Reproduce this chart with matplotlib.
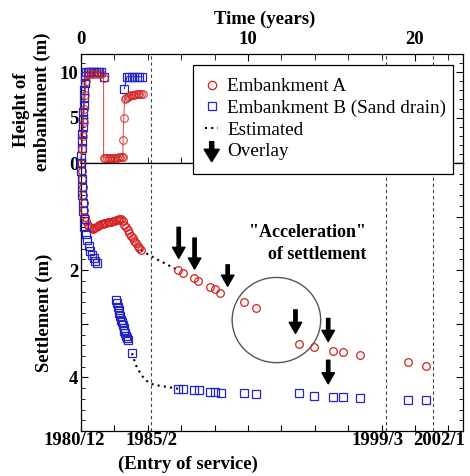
import numpy as np
import matplotlib
matplotlib.use("Agg")
import matplotlib.pyplot as plt
from matplotlib.patches import Ellipse, FancyArrow, Rectangle
from matplotlib.lines import Line2D
from matplotlib.legend_handler import HandlerBase
from matplotlib.ticker import MultipleLocator, FixedLocator

plt.rcParams['font.family'] = ['Liberation Serif', 'DejaVu Serif']

# ---------------- data ----------------
# Height of embankment (m)
hA_t = [0.0, 0.05, 0.1, 0.15, 0.2, 0.25, 0.3, 0.4, 0.6, 0.8, 1.0, 1.2, 1.35,
        1.35, 1.45, 1.55, 1.65, 1.75, 1.85, 1.95, 2.05, 2.15, 2.25, 2.35, 2.45, 2.5,
        2.52, 2.56, 2.62, 2.7, 2.8, 2.9, 3.0, 3.1, 3.2, 3.3, 3.4, 3.5, 3.6, 3.7]
hA_v = [0.0, 1.5, 3.0, 4.5, 6.0, 7.5, 9.0, 9.8, 9.8, 9.8, 9.8, 9.8, 9.4,
        0.6, 0.6, 0.6, 0.6, 0.6, 0.6, 0.6, 0.6, 0.6, 0.7, 0.7, 0.7, 0.7,
        2.5, 5.0, 7.0, 7.2, 7.3, 7.4, 7.5, 7.5, 7.5, 7.6, 7.6, 7.6, 7.6, 7.6]

hB_t = [0.0, 0.02, 0.04, 0.06, 0.08, 0.1, 0.12, 0.14, 0.16, 0.18, 0.2, 0.22, 0.25,
        0.3, 0.4, 0.5, 0.6, 0.7, 0.8, 0.9, 1.0, 1.1, 1.2, 1.35,
        np.nan,
        2.6, 2.75, 2.9, 3.05, 3.2, 3.35, 3.5, 3.65]
hB_v = [0.0, 0.8, 1.6, 2.4, 3.2, 4.0, 4.8, 5.6, 6.4, 7.2, 8.0, 8.8, 9.6,
        10.0, 10.0, 10.0, 10.0, 10.0, 10.0, 10.0, 10.0, 10.0, 10.0, 9.5,
        np.nan,
        8.2, 9.5, 9.5, 9.5, 9.5, 9.5, 9.5, 9.5]

# Settlement (m)
sA_t = [0.0, 0.03, 0.06, 0.09, 0.12, 0.16, 0.2, 0.25, 0.3, 0.4, 0.5, 0.6, 0.7,
        0.8, 0.9, 1.0, 1.1, 1.2, 1.3, 1.4, 1.5, 1.6, 1.7, 1.8, 1.9, 2.0, 2.1,
        2.2, 2.3, 2.4, 2.5, 2.6, 2.7, 2.8, 2.9, 3.0, 3.1, 3.2, 3.3, 3.4, 3.5, 3.6,
        5.8, 6.1, 6.75, 7.0, 7.7, 8.0, 8.35, 9.73, 10.5, 13.07, 13.97, 15.1,
        15.7, 16.7, 19.6, 20.66]
sA_v = [0.0, 0.15, 0.3, 0.45, 0.6, 0.75, 0.88, 1.0, 1.08, 1.15, 1.2, 1.22, 1.23,
        1.22, 1.2, 1.18, 1.15, 1.14, 1.13, 1.12, 1.12, 1.11, 1.1, 1.1, 1.09, 1.08,
        1.07, 1.06, 1.05, 1.05, 1.08, 1.15, 1.2, 1.25, 1.3, 1.36, 1.4, 1.45, 1.5,
        1.54, 1.58, 1.62,
        2.0, 2.05, 2.15, 2.2, 2.31, 2.36, 2.42, 2.6, 2.7, 3.37, 3.44, 3.5,
        3.53, 3.59, 3.72, 3.78]

sB_t = [0.0, 0.02, 0.04, 0.06, 0.08, 0.1, 0.12, 0.15, 0.2, 0.27, 0.35, 0.45,
        0.55, 0.65, 0.75, 0.85, 0.95,
        2.1, 2.15, 2.2, 2.25, 2.3, 2.35, 2.4, 2.45, 2.5, 2.55, 2.6, 2.65, 2.7,
        2.75, 2.8, 3.05,
        5.8, 6.1, 6.75, 7.05, 7.7, 8.0, 8.4, 9.73, 10.5, 13.07, 13.97, 15.1,
        15.7, 16.7, 19.6, 20.66]
sB_v = [0.0, 0.15, 0.3, 0.45, 0.6, 0.75, 0.9, 1.05, 1.2, 1.32, 1.44, 1.55,
        1.64, 1.72, 1.78, 1.83, 1.87,
        2.56, 2.62, 2.68, 2.74, 2.8, 2.86, 2.92, 2.97, 3.03, 3.08, 3.13, 3.18,
        3.23, 3.27, 3.3, 3.55,
        4.21, 4.22, 4.24, 4.24, 4.27, 4.27, 4.3, 4.3, 4.31, 4.3, 4.35, 4.37,
        4.37, 4.39, 4.43, 4.43]

# Estimated (dotted)
estA_t = [3.6, 4.0, 4.5, 5.0, 5.5, 5.8]
estA_v = [1.62, 1.7, 1.79, 1.87, 1.95, 2.0]
estB_t = [3.05, 3.3, 3.6, 3.9, 4.2, 4.6, 5.0, 5.4, 5.8]
estB_v = [3.55, 3.78, 3.95, 4.06, 4.12, 4.15, 4.17, 4.19, 4.21]

# Overlay arrows: (time, top, tip)
arrow_t = [5.85, 6.8, 8.78, 12.84, 14.8, 14.8]
arrow_top = [1.2, 1.4, 1.9, 2.74, 2.9, 3.68]
arrow_tip = [1.78, 1.98, 2.3, 3.18, 3.33, 4.12]

# Key dates (years since 1980/12)
event_t = [4.17, 18.25, 21.08]
date_labels = ["1980/12", "1985/2", "1999/3", "2002/1"]
date_label_t = [-0.42, 4.25, 17.75, 21.45]

RED = '#d42020'
BLUE = '#2424c4'

W, H = 470, 476
fig = plt.figure(figsize=(W / 100, H / 100), dpi=100)

L, R = 81, 463
T1, MID, B2 = 54, 163, 431
ax1 = fig.add_axes([L / W, 1 - MID / H, (R - L) / W, (MID - T1) / H])
ax2 = fig.add_axes([L / W, 1 - B2 / H, (R - L) / W, (B2 - MID) / H])

xmax = 22.87
ax1.set_xlim(0, xmax)
ax2.set_xlim(0, xmax)
ax1.set_ylim(0, 12)
ax2.set_ylim(5, 0)

for ax in (ax1, ax2):
    for sp in ax.spines.values():
        sp.set_linewidth(0.9)
    for t in event_t:
        ax.axvline(t, color='#444444', lw=0.8, ls=(0, (3, 2.5)), zorder=1)

# --- top panel
ax1.plot(hB_t, hB_v, color=BLUE, lw=0.8, marker='s', ms=5.5, mfc='none',
         mec=BLUE, mew=0.9, clip_on=False, zorder=3)
ax1.plot(hA_t, hA_v, color=RED, lw=0.8, alpha=0.75, marker='o', ms=5.5, mfc='none',
         mec=RED, mew=0.9, clip_on=False, zorder=3)

ax1.xaxis.set_ticks_position('top')
ax1.xaxis.set_major_locator(FixedLocator([0, 10, 20]))
ax1.xaxis.set_minor_locator(MultipleLocator(2))
ax1.tick_params(axis='x', which='both', direction='in', top=True, bottom=True,
                labeltop=True, labelbottom=False, labelsize=13.5, pad=4)
ax1.tick_params(axis='x', which='major', length=5)
ax1.tick_params(axis='x', which='minor', length=4)
ax1.yaxis.set_major_locator(FixedLocator([0, 5, 10]))
ax1.yaxis.set_minor_locator(MultipleLocator(1))
ax1.tick_params(axis='y', which='both', direction='in', left=True, right=True,
                labelsize=13.5, pad=2)
ax1.tick_params(axis='y', which='major', length=5)
ax1.tick_params(axis='y', which='minor', length=3)
for lab in ax1.get_xticklabels() + ax1.get_yticklabels():
    lab.set_fontweight('bold')

# --- bottom panel
ax2.plot(sA_t, sA_v, ls='none', marker='o', ms=5.5, mfc='none', mec=RED,
         mew=0.9, clip_on=False, zorder=3)
ax2.plot(sB_t, sB_v, ls='none', marker='s', ms=5.5, mfc='none', mec=BLUE,
         mew=0.9, clip_on=False, zorder=3)
ax2.plot(estA_t, estA_v, color='black', lw=1.5, ls=(0, (1, 2)), zorder=2)
ax2.plot(estB_t, estB_v, color='black', lw=1.5, ls=(0, (1, 2)), zorder=2)

for t, a, b in zip(arrow_t, arrow_top, arrow_tip):
    ax2.annotate('', xy=(t, b), xytext=(t, a),
                 arrowprops=dict(facecolor='black', edgecolor='black', width=2.4,
                                 headwidth=9, headlength=8, shrink=0))

ell = Ellipse((11.7, 2.93), width=5.3, height=1.59, fill=False,
              edgecolor='#555555', lw=1.0, zorder=2)
ax2.add_patch(ell)

ax2.xaxis.set_major_locator(MultipleLocator(2))
ax2.tick_params(axis='x', which='both', direction='in', top=False, bottom=True,
                labelbottom=False, labeltop=False, length=4)
ax2.yaxis.set_major_locator(FixedLocator([1, 2, 3, 4]))
ax2.yaxis.set_minor_locator(MultipleLocator(0.2))
ax2.set_yticklabels(['', '2', '', '4'])
ax2.tick_params(axis='y', which='major', direction='in', left=True, right=True,
                length=5, labelsize=13.5, pad=2)
ax2.tick_params(axis='y', which='minor', direction='in', left=True, right=True,
                length=3)
for lab in ax2.get_yticklabels():
    lab.set_fontweight('bold')

# date labels under the axis
xt = ax2.get_xaxis_transform()
for t, s in zip(date_label_t, date_labels):
    ax2.text(t, -0.037, s, transform=xt, ha='center', va='center',
             fontsize=13.5, fontweight='bold', clip_on=False)
ax2.text(6.4, -0.123, '(Entry of service)', transform=xt, ha='center',
         va='center', fontsize=13.5, fontweight='bold', clip_on=False)

# annotation text
ax2.text(13.55, 1.29, '"Acceleration"', ha='center', va='center', fontsize=13,
         fontweight='bold')
ax2.text(14.15, 1.71, 'of settlement', ha='center', va='center', fontsize=13,
         fontweight='bold')

# axis titles
fig.text(265 / W, 1 - 19 / H, 'Time (years)', ha='center', va='center',
         fontsize=13.5, fontweight='bold')
fig.text(21 / W, 1 - 110 / H, 'Height of', rotation=90, ha='center',
         va='center', fontsize=13.5, fontweight='bold')
fig.text(42 / W, 1 - 102 / H, 'embankment (m)', rotation=90, ha='center',
         va='center', fontsize=13.5, fontweight='bold')
fig.text(44 / W, 1 - 313 / H, 'Settlement (m)', rotation=90, ha='center',
         va='center', fontsize=13.5, fontweight='bold')


# legend
class OverlayKey:
    pass


class HandlerArrow(HandlerBase):
    def create_artists(self, legend, orig_handle, xdescent, ydescent, width,
                       height, fontsize, trans):
        cx = width / 2 - xdescent
        arr = FancyArrow(cx, height * 1.1, 0, -height * 1.5, width=3.0,
                         head_width=11, head_length=9, length_includes_head=True,
                         color='black', transform=trans)
        return [arr]


# legend frame drawn separately (tight on the right like the original)
frame = Rectangle((193 / W, 1 - 174 / H), (453 - 193) / W, (174 - 65) / H,
                  transform=fig.transFigure, facecolor='white',
                  edgecolor='black', lw=0.9, zorder=4)
fig.add_artist(frame)

handles = [
    Line2D([], [], ls='none', marker='o', ms=6, mfc='none', mec=RED, mew=0.9),
    Line2D([], [], ls='none', marker='s', ms=6, mfc='none', mec=BLUE, mew=0.9),
    Line2D([], [], color='black', lw=1.5, ls=(0, (1, 2))),
    OverlayKey(),
]
labels = ['Embankment A', 'Embankment B (Sand drain)', 'Estimated', 'Overlay']
leg = fig.legend(handles, labels, handler_map={OverlayKey: HandlerArrow()},
                 loc='upper left', bbox_to_anchor=(205 / W, 1 - 78 / H),
                 bbox_transform=fig.transFigure, borderaxespad=0,
                 frameon=False, prop={'size': 13.8}, handlelength=0.7,
                 handletextpad=0.45, labelspacing=0.22, borderpad=0)
leg.set_zorder(5)

fig.savefig('out.png', dpi=100)
